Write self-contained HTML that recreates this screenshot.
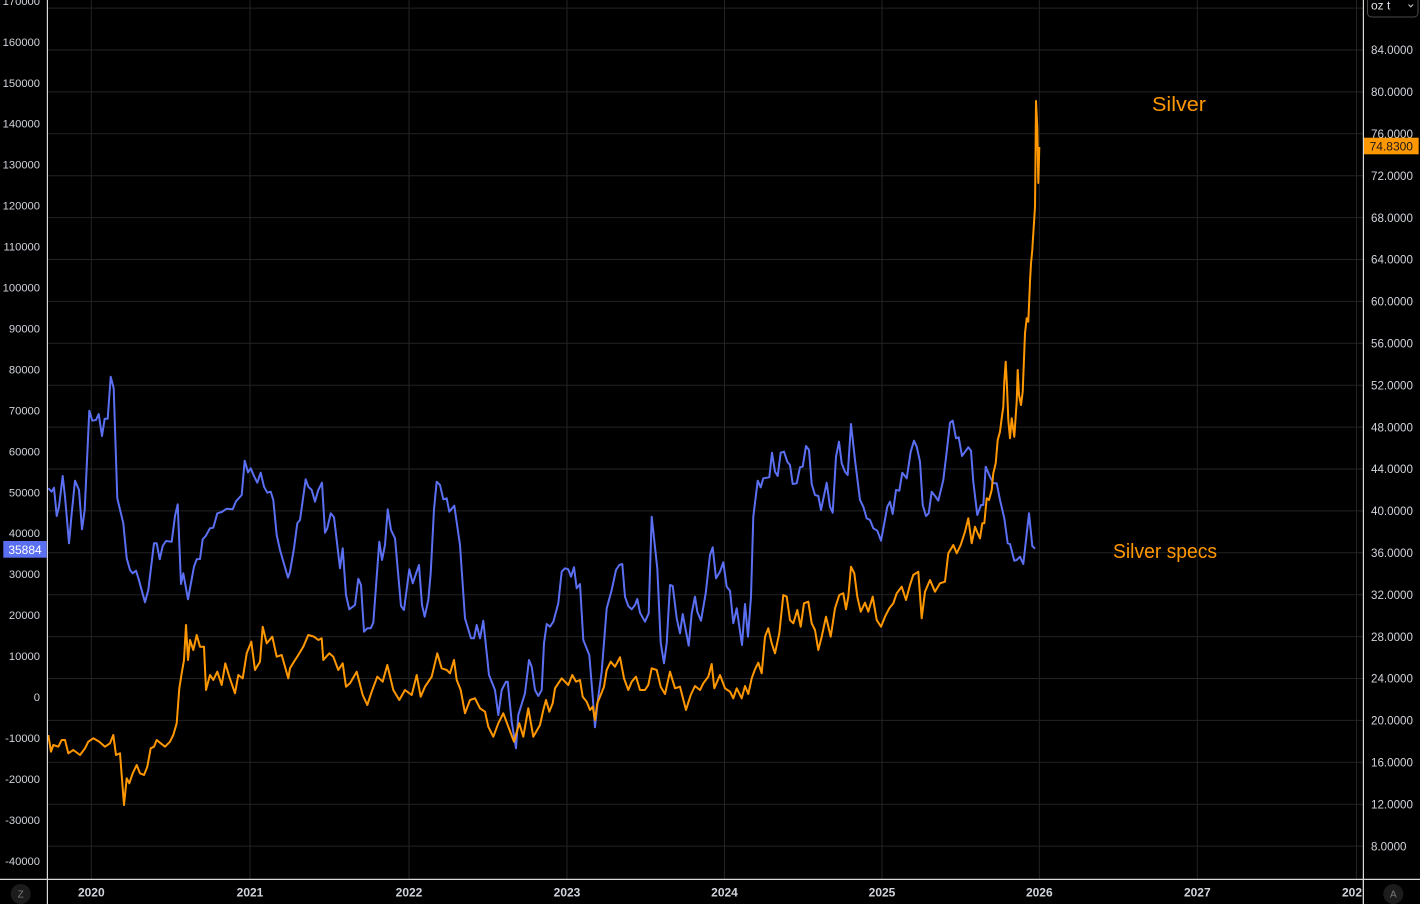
<!DOCTYPE html>
<html><head><meta charset="utf-8"><style>
html,body{margin:0;padding:0;background:#000;}
svg{display:block;}
text{font-family:"Liberation Sans",sans-serif;}
</style></head><body>
<svg width="1420" height="904" viewBox="0 0 1420 904" xmlns="http://www.w3.org/2000/svg">
<rect width="1420" height="904" fill="#000"/>
<g stroke="#232323" stroke-width="1">
<line x1="47" y1="8.1" x2="1363" y2="8.1"/>
<line x1="47" y1="50" x2="1363" y2="50"/>
<line x1="47" y1="91.9" x2="1363" y2="91.9"/>
<line x1="47" y1="133.8" x2="1363" y2="133.8"/>
<line x1="47" y1="175.7" x2="1363" y2="175.7"/>
<line x1="47" y1="217.6" x2="1363" y2="217.6"/>
<line x1="47" y1="259.5" x2="1363" y2="259.5"/>
<line x1="47" y1="301.4" x2="1363" y2="301.4"/>
<line x1="47" y1="343.3" x2="1363" y2="343.3"/>
<line x1="47" y1="385.2" x2="1363" y2="385.2"/>
<line x1="47" y1="427.1" x2="1363" y2="427.1"/>
<line x1="47" y1="469" x2="1363" y2="469"/>
<line x1="47" y1="510.9" x2="1363" y2="510.9"/>
<line x1="47" y1="552.8" x2="1363" y2="552.8"/>
<line x1="47" y1="594.7" x2="1363" y2="594.7"/>
<line x1="47" y1="636.6" x2="1363" y2="636.6"/>
<line x1="47" y1="678.5" x2="1363" y2="678.5"/>
<line x1="47" y1="720.4" x2="1363" y2="720.4"/>
<line x1="47" y1="762.3" x2="1363" y2="762.3"/>
<line x1="47" y1="804.2" x2="1363" y2="804.2"/>
<line x1="47" y1="846.1" x2="1363" y2="846.1"/>
<line x1="91.3" y1="0" x2="91.3" y2="879"/>
<line x1="250" y1="0" x2="250" y2="879"/>
<line x1="409" y1="0" x2="409" y2="879"/>
<line x1="567" y1="0" x2="567" y2="879"/>
<line x1="724.5" y1="0" x2="724.5" y2="879"/>
<line x1="882" y1="0" x2="882" y2="879"/>
<line x1="1039.3" y1="0" x2="1039.3" y2="879"/>
<line x1="1197.3" y1="0" x2="1197.3" y2="879"/>
<line x1="1356.5" y1="0" x2="1356.5" y2="879"/>
</g>

<polyline fill="none" stroke="#5b6ff2" stroke-width="2" stroke-linejoin="round" points="48.3,488.3 51.7,491.7 54,487.7 56.7,516 59,506.7 62.7,476 65,496.7 69,543.3 71.7,513.3 75,480.7 79,490 82,529.3 84.7,510 89.3,410.7 92.3,420.7 96,420 98.7,414 102,436 104.7,418.7 107.7,418.7 110.7,376.7 113.7,388.3 117.3,498.3 123.3,523.3 126.7,558.3 130,570 132.7,573.3 136,570.7 138.7,579.3 145,602.3 148.3,590 154,543.3 156.7,543.3 159.7,559.3 162.7,546 166,541 171.7,541.7 175,516 177.7,504.3 181,584 183.3,573.3 188,599.3 194,566.7 196.7,559.3 200,559 202.7,539.3 205.7,536 210,528.3 213.3,527.7 217.3,513.3 221.7,512 226.7,508.7 232.7,509.3 236,501.3 241.7,495 244.7,460.7 248,472.3 250.7,468.3 254.3,476.7 257.3,482.7 260.7,472.7 264,486.7 267.3,492.7 270.7,491.7 273.3,500 276.7,535 280,550 288,577.7 290,571.7 294,548.3 297.3,523.3 300,520 305.7,479.3 308.3,486.7 311.7,490 315,501.7 318.3,490 322,482.7 325,532.7 327.3,528.3 330.7,513.3 334,517.3 340,568.3 342.7,548.3 346,595 349.3,609.3 355,605 358.3,578.7 361,585 364,631.7 367.3,628.3 370.7,628.3 373.3,622.7 379.3,541.7 382,560 385,545 387.7,509.3 391,530 395,538.3 401,606 404,610 409.3,569.3 412.7,583.3 419,565 422,605 424.7,616.7 428.3,600 430.7,573.3 434,509.3 436.7,481.7 440,485 443.3,499.3 446.7,498.3 449.3,511.7 454.3,505.7 460,545 465,618.3 471,638.3 474,638.3 476.7,625 480,638.3 483.3,620.7 489,675 495,690 498.3,715 501.7,690 506,681.7 507.7,681.7 511.7,721.7 516,748.3 518.3,715 525,693.3 529,660 531.7,666.7 535,690 538.3,696 541.7,690 544,643.3 546.7,624 550,626.7 553.3,621.7 558.3,603.3 561.7,571.7 565,568.3 568.3,569.3 571,576.7 574,567.3 576.7,588.3 580,584 583.3,640 589.3,655 592.7,696.7 595,727.3 598.3,696.7 601.7,671.7 606.7,608.3 611.7,590 616,570 619.3,565 622.3,564 625,596.7 628.3,606 631.7,609.3 635,605 637.3,599 640,612.7 645,621.7 648.7,613.3 651.7,516.7 657.3,568.3 660.7,642.7 664,663.3 666.7,643.3 670,585 672.7,586 676.7,618.3 680,633.3 682.7,614 688.7,645.7 691.7,613.3 695,596.7 697.3,611.7 701,620.7 705.7,593.3 710,555 712.7,547.3 716,578.3 720,571.7 723.3,562.3 726.7,586.7 730,590.7 733.3,623.3 736.7,608.3 742,645 745,604 748,636.7 751,596.7 753.3,516.7 757.7,480.7 760.7,487.3 763.3,478.3 769.3,477.3 772,452.7 775,471.7 777.7,476 780.7,452.7 784,451.7 787.3,461.7 790,465 792.7,484 796.7,483.3 800,467.3 802.7,466.7 806,446 809,450 811.7,484 815,495 818.3,496 821,510 826.7,482.7 830,506.7 832.7,512.7 836,456.7 839,441.7 841.7,463.3 845,471.7 847.7,475 851,424 855,460 860,500 863.3,506.7 866.7,518.3 870,520 873.3,528.3 877.3,530.7 881,540.7 884,525 887.3,506.7 890,501.7 892.7,514 896,490 899.3,490.7 902.3,472.7 906.7,478.3 910.7,451.7 914,440.7 916.7,446.7 920,461.7 922.7,505 926,516 928.7,513.3 931.7,491.7 935,496 938.3,500.7 943.3,480 946.7,451.7 950,422.7 952.7,420.7 956,438.3 958.7,437.3 962,456 968.3,447.3 971,450.7 973.3,481.7 977.3,515 981,505 983.3,505 985.7,466.7 990,476.7 993.3,483.3 996.7,483.3 1000,500 1004.3,518.3 1007.7,543.3 1010,544 1014.3,560.7 1016.7,560 1020,556.7 1023.3,564 1029,513.3 1032.3,546 1035,548.7"/>

<polyline fill="none" stroke="#ff9800" stroke-width="2" stroke-linejoin="round" points="48.3,735 51,751.7 53.3,745 58.3,746.7 61.7,740 65,740 68.3,753.3 73.3,750 80,755 85,748.3 88.3,741.7 93.3,738.3 99.3,741.7 105,746.7 110,743.3 113.3,735 116,755 120,753.3 124,805 126.7,778.3 129.3,783.3 132.7,773.3 136.7,765 140,773.3 144,775 147.3,766.7 150.7,748.3 154,746.7 156.7,740 160.7,743.3 165,746.7 170,741.7 173.3,735 176.7,723.3 179.3,688.3 181.7,673.3 184,660 186,625 188,660 190,640 193.3,650 196.7,635 200,646.7 204,646.7 206,690 210,675 213.3,680 217.3,671.7 221.7,685 225.3,663.3 229.3,676.7 235,693.3 238.3,675 242.7,678.3 246.7,653.3 251.3,641.7 255,670 260,661.7 262.7,626.7 266.7,643.3 272.3,636.7 276.7,656.7 281.7,655 288.3,678.3 290,668.3 294,661.7 298.3,655 303.3,646.7 308.3,635 314,636.7 318.3,640 321.7,638.3 323.3,660 329.3,653.3 333.3,656.7 338.3,670 342.7,663.3 346,686.7 350,683.3 356.7,671.7 362.7,695 367.3,705 371.7,691.7 377.3,676.7 382.7,681.7 387.3,665 393.3,690 399.3,700 405,690 411.7,695 416.7,675 420.7,696.7 425,686.7 431.7,676.7 437.3,653.3 441.7,668.3 446.7,670 450,673.3 454,660 456.7,680 460.7,690 465,713.3 470,700 475,698.3 480,708.3 485,711.7 488.3,726.7 493.3,736.7 498.3,723.3 503.3,713.3 508.3,726.7 514,741.7 519.3,723.3 523.3,736.7 528.3,708.3 533.3,736.7 540,725 543.3,710 546,700 549.3,711.7 552.7,703.3 555,688.3 558.3,683.3 561.7,678.3 565,681.7 568.3,685 572.3,675 576,681.7 580,680 582.7,696.7 586.7,701.7 590,710 592.7,706.7 595,720 597.3,703.3 600.7,695 604,686.7 606.7,670 610.7,661.7 615,666.7 620,657.3 624,678.3 628.3,690 631.7,681.7 636,676.7 640,690 645,690 648.3,685 651.7,668.3 656.7,670 660.7,686.7 665,694 670,671.7 675,688.3 680,686.7 686,710 690.7,695 695,686 700,690 703.3,683.3 708.3,676.7 711.7,664 714.3,688.3 720,675 725,688.3 730,691.7 733.3,698.3 736.7,688.3 741.7,698.3 745,686 748.3,694 751.7,678.3 755,669.3 758.3,662.7 761.7,673.3 765,636.7 768.3,628.3 771.7,643.3 775,653.3 779.3,633.3 783.3,595 786.7,596.7 790,620 793.3,623.3 797.3,610 800.7,626.7 804,603.3 808.3,601.7 811.7,623.3 815,630 818.3,650 821.7,636.7 826,616.7 830.7,636.7 835,608.3 839.3,595 843.3,593.3 846,609.3 848.3,596.7 851,566.7 854.3,573.3 857.3,596.7 860.7,611.7 865,602.7 868.3,611.7 872.7,596.7 876.7,620 881,626.7 885,616.7 889.3,608.3 893.3,603.3 896.7,593.3 901.7,586.7 906,600 910,585 913.3,575 918.3,571.7 921.7,618.3 925,591.7 930,580 935,591.7 940,583.3 945,581.7 948.3,553.3 953.3,545 956.7,553.3 960.7,545 965,531.7 968.3,518.3 971.7,543.3 975,526.7 977.7,533.3 980,538.3 982.3,523.3 984.3,523.3 986.7,498.3 989,500 991.7,490 993.3,473.3 995.7,463.3 997.7,440 1000,431.7 1001.7,418.3 1003.3,406.7 1004.3,381.7 1005.7,361.7 1007,386.7 1008.3,420 1010,438.3 1011.7,418.3 1014.3,436.7 1016.7,401.7 1017.7,370 1019,395 1021,405 1022.7,391.7 1025,333.3 1026.7,318.3 1028.3,321.7 1030,281.7 1031,263.3 1032.3,250 1032.7,243 1035,207 1035.3,180 1036,101 1037.3,128 1038.3,183 1039.3,147"/>

<text x="1152" y="111" font-size="20" fill="#ff9800" textLength="54" lengthAdjust="spacingAndGlyphs">Silver</text>
<text x="1113" y="558" font-size="20" fill="#ff9800" textLength="104" lengthAdjust="spacingAndGlyphs">Silver specs</text>

<rect x="0" y="0" width="47" height="879" fill="#000"/>
<rect x="1363" y="0" width="57" height="904" fill="#000"/>
<rect x="0" y="879" width="1420" height="25" fill="#000"/>

<g stroke="#d8d8d8" stroke-width="1.2">
<line x1="47.4" y1="0" x2="47.4" y2="904"/>
<line x1="1363.4" y1="0" x2="1363.4" y2="904"/>
<line x1="0" y1="879.4" x2="1420" y2="879.4"/>
</g>

<g font-size="11.2" fill="#d1d4dc" text-anchor="end">
<text x="40" y="4.9">170000</text>
<text x="40" y="45.8">160000</text>
<text x="40" y="86.8">150000</text>
<text x="40" y="127.7">140000</text>
<text x="40" y="168.7">130000</text>
<text x="40" y="209.6">120000</text>
<text x="40" y="250.6">110000</text>
<text x="40" y="291.5">100000</text>
<text x="40" y="332.5">90000</text>
<text x="40" y="373.4">80000</text>
<text x="40" y="414.4">70000</text>
<text x="40" y="455.3">60000</text>
<text x="40" y="496.3">50000</text>
<text x="40" y="537.2">40000</text>
<text x="40" y="578.2">30000</text>
<text x="40" y="619.1">20000</text>
<text x="40" y="660.1">10000</text>
<text x="40" y="701">0</text>
<text x="40" y="742">-10000</text>
<text x="40" y="782.9">-20000</text>
<text x="40" y="823.9">-30000</text>
<text x="40" y="864.8">-40000</text>
</g>

<g font-size="11.6" fill="#d1d4dc">
<text x="1371" y="54.2">84.0000</text>
<text x="1371" y="96.1">80.0000</text>
<text x="1371" y="138">76.0000</text>
<text x="1371" y="179.9">72.0000</text>
<text x="1371" y="221.8">68.0000</text>
<text x="1371" y="263.7">64.0000</text>
<text x="1371" y="305.6">60.0000</text>
<text x="1371" y="347.5">56.0000</text>
<text x="1371" y="389.4">52.0000</text>
<text x="1371" y="431.3">48.0000</text>
<text x="1371" y="473.2">44.0000</text>
<text x="1371" y="515.1">40.0000</text>
<text x="1371" y="557">36.0000</text>
<text x="1371" y="598.9">32.0000</text>
<text x="1371" y="640.8">28.0000</text>
<text x="1371" y="682.7">24.0000</text>
<text x="1371" y="724.6">20.0000</text>
<text x="1371" y="766.5">16.0000</text>
<text x="1371" y="808.4">12.0000</text>
<text x="1371" y="850.3">8.0000</text>
</g>

<g font-size="12" font-weight="bold" fill="#d1d4dc" text-anchor="middle">
<text x="91.3" y="896.5">2020</text>
<text x="250" y="896.5">2021</text>
<text x="409" y="896.5">2022</text>
<text x="567" y="896.5">2023</text>
<text x="724.5" y="896.5">2024</text>
<text x="882" y="896.5">2025</text>
<text x="1039.3" y="896.5">2026</text>
<text x="1197.3" y="896.5">2027</text>
</g>
<text x="1342" y="896.5" font-size="12" font-weight="bold" fill="#d1d4dc">202</text>
<rect x="1363" y="880" width="57" height="24" fill="#000"/>
<line x1="1363.4" y1="879" x2="1363.4" y2="904" stroke="#d8d8d8" stroke-width="1.2"/>

<rect x="3.3" y="541" width="43.4" height="16.7" fill="#5b6ff2"/>
<text x="25" y="553.8" font-size="12" fill="#fff" text-anchor="middle">35884</text>

<rect x="1364" y="137.7" width="54.7" height="16.6" fill="#ff9800"/>
<text x="1391.3" y="150.3" font-size="12" fill="#1a1a1a" text-anchor="middle">74.8300</text>

<rect x="1367.5" y="-6" width="50.5" height="23" rx="4" ry="4" fill="#000" stroke="#4a4a4a" stroke-width="1"/>
<text x="1371" y="9.5" font-size="12" fill="#e0e3eb">oz t</text>
<path d="M1408.5,4.5 L1410.8,6.8 L1413.1,4.5" fill="none" stroke="#c0c0c0" stroke-width="1.1"/>

<circle cx="20.7" cy="894" r="10" fill="#1c1c1c"/>
<text x="20.7" y="897.5" font-size="10" fill="#7a7a7a" text-anchor="middle">Z</text>
<circle cx="1393.3" cy="894" r="10" fill="#1c1c1c"/>
<text x="1393.3" y="897.5" font-size="10" fill="#7a7a7a" text-anchor="middle">A</text>
</svg>
</body></html>
